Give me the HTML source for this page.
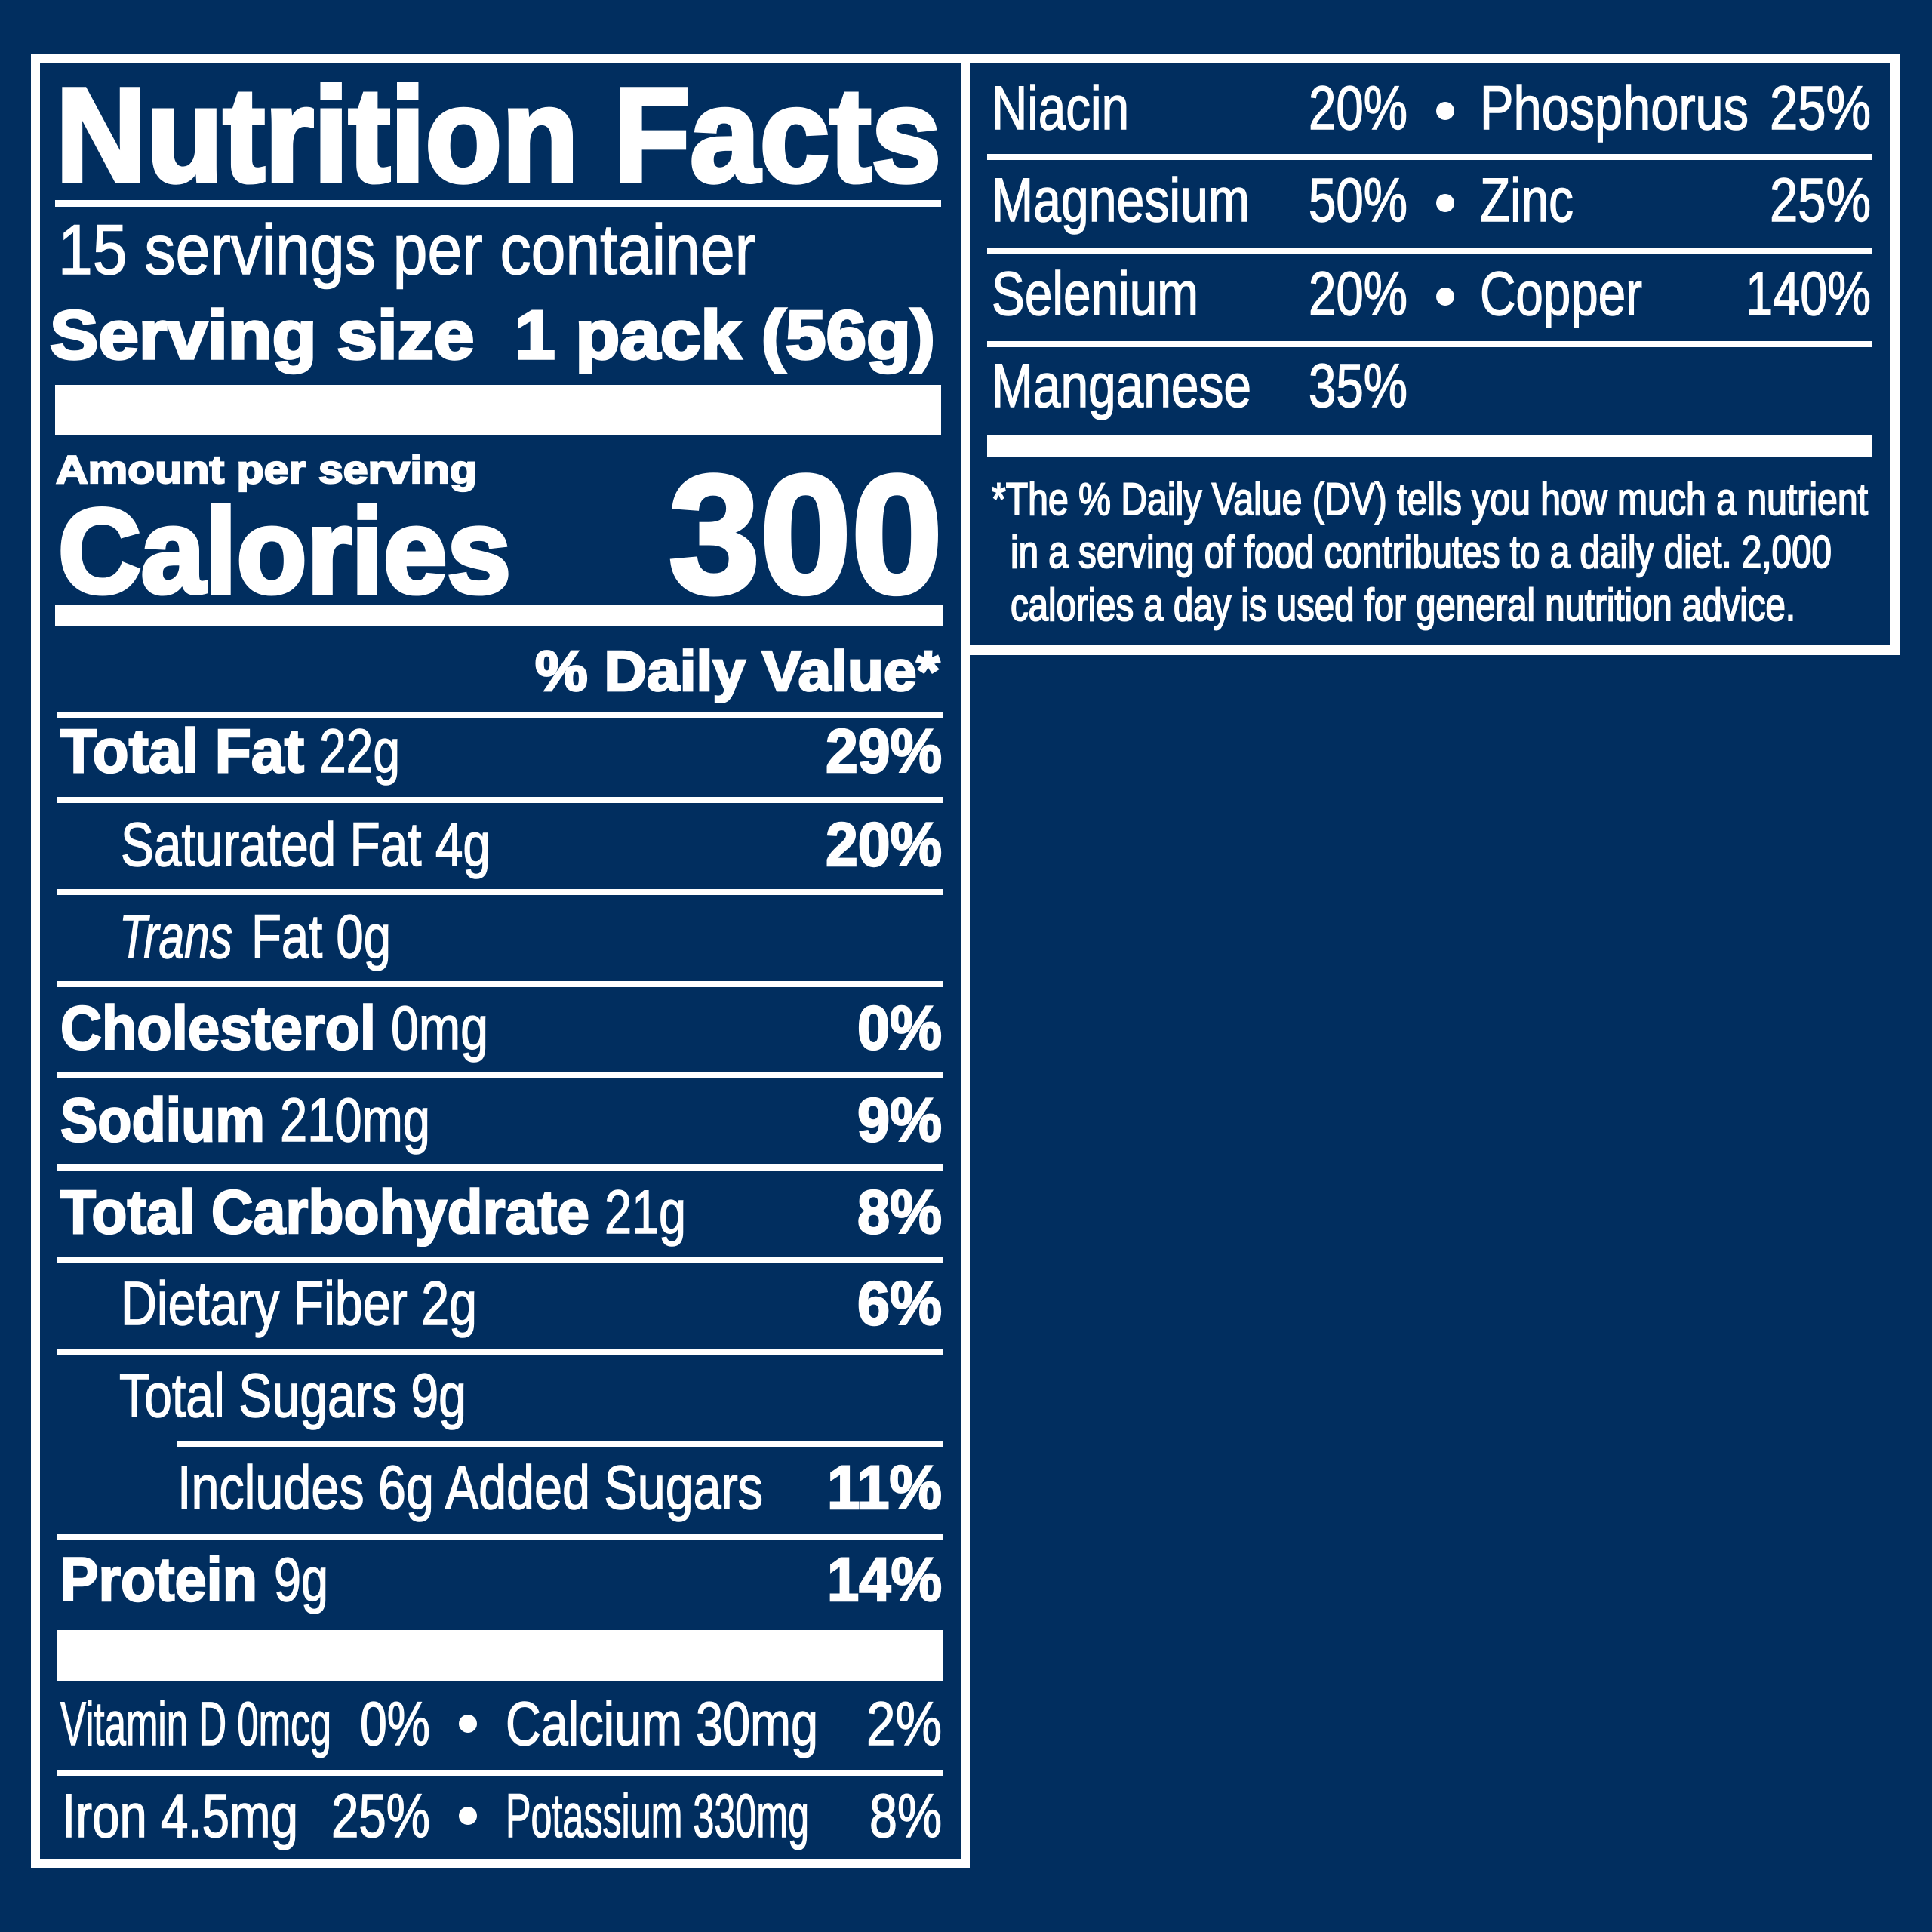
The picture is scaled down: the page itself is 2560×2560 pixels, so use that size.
<!DOCTYPE html>
<html>
<head>
<meta charset="utf-8">
<style>
html,body{margin:0;padding:0;background:#012e5f;}
svg{display:block;}
text{fill:#fff;font-family:"Liberation Sans",Arial,Helvetica,sans-serif;}
.b{font-weight:bold;stroke:#fff;stroke-width:2.4;}
.k{font-weight:bold;stroke:#fff;stroke-width:5;}
.r{font-weight:normal;stroke:#fff;stroke-width:1.5;}
.f{font-weight:normal;stroke:#fff;stroke-width:2;}
.i{font-style:italic;}
</style>
</head>
<body>
<svg width="2560" height="2560" viewBox="0 0 2560 2560" xmlns="http://www.w3.org/2000/svg">
<rect x="0" y="0" width="2560" height="2560" fill="#012e5f"/>
<!-- Left panel frame -->
<rect x="41" y="72" width="1244" height="2403" fill="#fff"/>
<rect x="53" y="84" width="1220" height="2379" fill="#012e5f"/>
<!-- Right panel frame -->
<rect x="1273" y="72" width="1244" height="796" fill="#fff"/>
<rect x="1285" y="84" width="1220" height="771" fill="#012e5f"/>

<!-- LEFT PANEL -->
<text class="k" x="74" y="240" font-size="177" textLength="1173" lengthAdjust="spacingAndGlyphs" style="stroke-width:6">Nutrition Facts</text>
<rect x="73" y="265" width="1174" height="9" fill="#fff"/>
<text class="r" x="77" y="363" font-size="94" textLength="924" lengthAdjust="spacingAndGlyphs">15 servings per container</text>
<text class="k" x="66" y="475" font-size="91" textLength="1173" lengthAdjust="spacingAndGlyphs" style="stroke-width:3.5">Serving size&#160; 1 pack (56g)</text>
<rect x="73" y="510" width="1174" height="66" fill="#fff"/>
<text class="b" x="74" y="640" font-size="52" textLength="558" lengthAdjust="spacingAndGlyphs" style="stroke-width:2.2">Amount per serving</text>
<text class="k" x="77" y="785" font-size="159" textLength="600" lengthAdjust="spacingAndGlyphs" style="stroke-width:6">Calories</text>
<text class="k" x="886" y="785" font-size="223" textLength="363" lengthAdjust="spacingAndGlyphs" style="stroke-width:6">300</text>
<rect x="73" y="801" width="1176" height="28" fill="#fff"/>
<text class="b" x="709" y="915" font-size="75" textLength="536" lengthAdjust="spacingAndGlyphs" style="stroke-width:2.8">% Daily Value*</text>

<!-- row dividers -->
<rect x="76" y="943" width="1174" height="8" fill="#fff"/>
<rect x="76" y="1056" width="1174" height="8" fill="#fff"/>
<rect x="76" y="1178" width="1174" height="8" fill="#fff"/>
<rect x="76" y="1300" width="1174" height="8" fill="#fff"/>
<rect x="76" y="1421" width="1174" height="8" fill="#fff"/>
<rect x="76" y="1543" width="1174" height="8" fill="#fff"/>
<rect x="76" y="1666" width="1174" height="8" fill="#fff"/>
<rect x="76" y="1788" width="1174" height="8" fill="#fff"/>
<rect x="235" y="1910" width="1015" height="8" fill="#fff"/>
<rect x="76" y="2032" width="1174" height="8" fill="#fff"/>

<!-- rows -->
<text class="b" x="80" y="1023" font-size="82" textLength="323" lengthAdjust="spacingAndGlyphs">Total Fat</text>
<text class="r" x="423" y="1023" font-size="82" textLength="107" lengthAdjust="spacingAndGlyphs">22g</text>
<text class="b" x="1094" y="1023" font-size="82" textLength="154" lengthAdjust="spacingAndGlyphs">29%</text>

<text class="r" x="160" y="1147" font-size="82" textLength="490" lengthAdjust="spacingAndGlyphs">Saturated Fat 4g</text>
<text class="b" x="1094" y="1147" font-size="82" textLength="154" lengthAdjust="spacingAndGlyphs">20%</text>

<text class="r i" x="158" y="1269" font-size="82" textLength="150" lengthAdjust="spacingAndGlyphs">Trans</text>
<text class="r" x="333" y="1269" font-size="82" textLength="185" lengthAdjust="spacingAndGlyphs">Fat 0g</text>

<text class="b" x="80" y="1390" font-size="82" textLength="418" lengthAdjust="spacingAndGlyphs">Cholesterol</text>
<text class="r" x="518" y="1390" font-size="82" textLength="129" lengthAdjust="spacingAndGlyphs">0mg</text>
<text class="b" x="1136" y="1390" font-size="82" textLength="112" lengthAdjust="spacingAndGlyphs">0%</text>

<text class="b" x="80" y="1512" font-size="82" textLength="271" lengthAdjust="spacingAndGlyphs">Sodium</text>
<text class="r" x="371" y="1512" font-size="82" textLength="199" lengthAdjust="spacingAndGlyphs">210mg</text>
<text class="b" x="1136" y="1512" font-size="82" textLength="112" lengthAdjust="spacingAndGlyphs">9%</text>

<text class="b" x="80" y="1634" font-size="82" textLength="701" lengthAdjust="spacingAndGlyphs">Total Carbohydrate</text>
<text class="r" x="801" y="1634" font-size="82" textLength="108" lengthAdjust="spacingAndGlyphs">21g</text>
<text class="b" x="1136" y="1634" font-size="82" textLength="112" lengthAdjust="spacingAndGlyphs">8%</text>

<text class="r" x="160" y="1755" font-size="82" textLength="472" lengthAdjust="spacingAndGlyphs">Dietary Fiber 2g</text>
<text class="b" x="1136" y="1755" font-size="82" textLength="112" lengthAdjust="spacingAndGlyphs">6%</text>

<text class="r" x="158" y="1877" font-size="82" textLength="460" lengthAdjust="spacingAndGlyphs">Total Sugars 9g</text>

<text class="r" x="235" y="1999" font-size="82" textLength="776" lengthAdjust="spacingAndGlyphs">Includes 6g Added Sugars</text>
<text class="b" x="1096" y="1999" font-size="82" textLength="152" lengthAdjust="spacingAndGlyphs">11%</text>

<text class="b" x="80" y="2121" font-size="82" textLength="261" lengthAdjust="spacingAndGlyphs">Protein</text>
<text class="r" x="363" y="2121" font-size="82" textLength="72" lengthAdjust="spacingAndGlyphs">9g</text>
<text class="b" x="1096" y="2121" font-size="82" textLength="152" lengthAdjust="spacingAndGlyphs">14%</text>

<rect x="76" y="2160" width="1174" height="68" fill="#fff"/>

<text class="r" x="80" y="2312" font-size="82" textLength="359" lengthAdjust="spacingAndGlyphs">Vitamin D 0mcg</text>
<text class="r" x="477" y="2312" font-size="82" textLength="93" lengthAdjust="spacingAndGlyphs">0%</text>
<circle cx="620" cy="2284" r="12" fill="#fff"/>
<text class="r" x="670" y="2312" font-size="82" textLength="414" lengthAdjust="spacingAndGlyphs">Calcium 30mg</text>
<text class="r" x="1148" y="2312" font-size="82" textLength="100" lengthAdjust="spacingAndGlyphs">2%</text>

<rect x="76" y="2345" width="1174" height="8" fill="#fff"/>

<text class="r" x="82" y="2434" font-size="82" textLength="313" lengthAdjust="spacingAndGlyphs">Iron 4.5mg</text>
<text class="r" x="439" y="2434" font-size="82" textLength="131" lengthAdjust="spacingAndGlyphs">25%</text>
<circle cx="620" cy="2406" r="12" fill="#fff"/>
<text class="r" x="670" y="2434" font-size="82" textLength="402" lengthAdjust="spacingAndGlyphs">Potassium 330mg</text>
<text class="r" x="1152" y="2434" font-size="82" textLength="96" lengthAdjust="spacingAndGlyphs">8%</text>

<!-- RIGHT PANEL -->
<text class="r" x="1314" y="171" font-size="82" textLength="182" lengthAdjust="spacingAndGlyphs">Niacin</text>
<text class="r" x="1734" y="171" font-size="82" textLength="131" lengthAdjust="spacingAndGlyphs">20%</text>
<circle cx="1915" cy="147" r="12" fill="#fff"/>
<text class="r" x="1961" y="171" font-size="82" textLength="356" lengthAdjust="spacingAndGlyphs">Phosphorus</text>
<text class="r" x="2345" y="171" font-size="82" textLength="134" lengthAdjust="spacingAndGlyphs">25%</text>

<rect x="1308" y="204" width="1173" height="8" fill="#fff"/>

<text class="r" x="1314" y="293" font-size="82" textLength="342" lengthAdjust="spacingAndGlyphs">Magnesium</text>
<text class="r" x="1734" y="293" font-size="82" textLength="131" lengthAdjust="spacingAndGlyphs">50%</text>
<circle cx="1915" cy="269" r="12" fill="#fff"/>
<text class="r" x="1961" y="293" font-size="82" textLength="124" lengthAdjust="spacingAndGlyphs">Zinc</text>
<text class="r" x="2345" y="293" font-size="82" textLength="134" lengthAdjust="spacingAndGlyphs">25%</text>

<rect x="1308" y="329" width="1173" height="8" fill="#fff"/>

<text class="r" x="1314" y="417" font-size="82" textLength="274" lengthAdjust="spacingAndGlyphs">Selenium</text>
<text class="r" x="1734" y="417" font-size="82" textLength="131" lengthAdjust="spacingAndGlyphs">20%</text>
<circle cx="1915" cy="393" r="12" fill="#fff"/>
<text class="r" x="1961" y="417" font-size="82" textLength="215" lengthAdjust="spacingAndGlyphs">Copper</text>
<text class="r" x="2313" y="417" font-size="82" textLength="166" lengthAdjust="spacingAndGlyphs">140%</text>

<rect x="1308" y="452" width="1173" height="8" fill="#fff"/>

<text class="r" x="1314" y="539" font-size="82" textLength="344" lengthAdjust="spacingAndGlyphs">Manganese</text>
<text class="r" x="1734" y="539" font-size="82" textLength="131" lengthAdjust="spacingAndGlyphs">35%</text>

<rect x="1308" y="576" width="1173" height="29" fill="#fff"/>

<text class="f" x="1314" y="682" font-size="60" textLength="1161" lengthAdjust="spacingAndGlyphs">*The % Daily Value (DV) tells you how much a nutrient</text>
<text class="f" x="1339" y="752" font-size="60" textLength="1088" lengthAdjust="spacingAndGlyphs">in a serving of food contributes to a daily diet. 2,000</text>
<text class="f" x="1339" y="822" font-size="60" textLength="1040" lengthAdjust="spacingAndGlyphs">calories a day is used for general nutrition advice.</text>
</svg>
</body>
</html>
